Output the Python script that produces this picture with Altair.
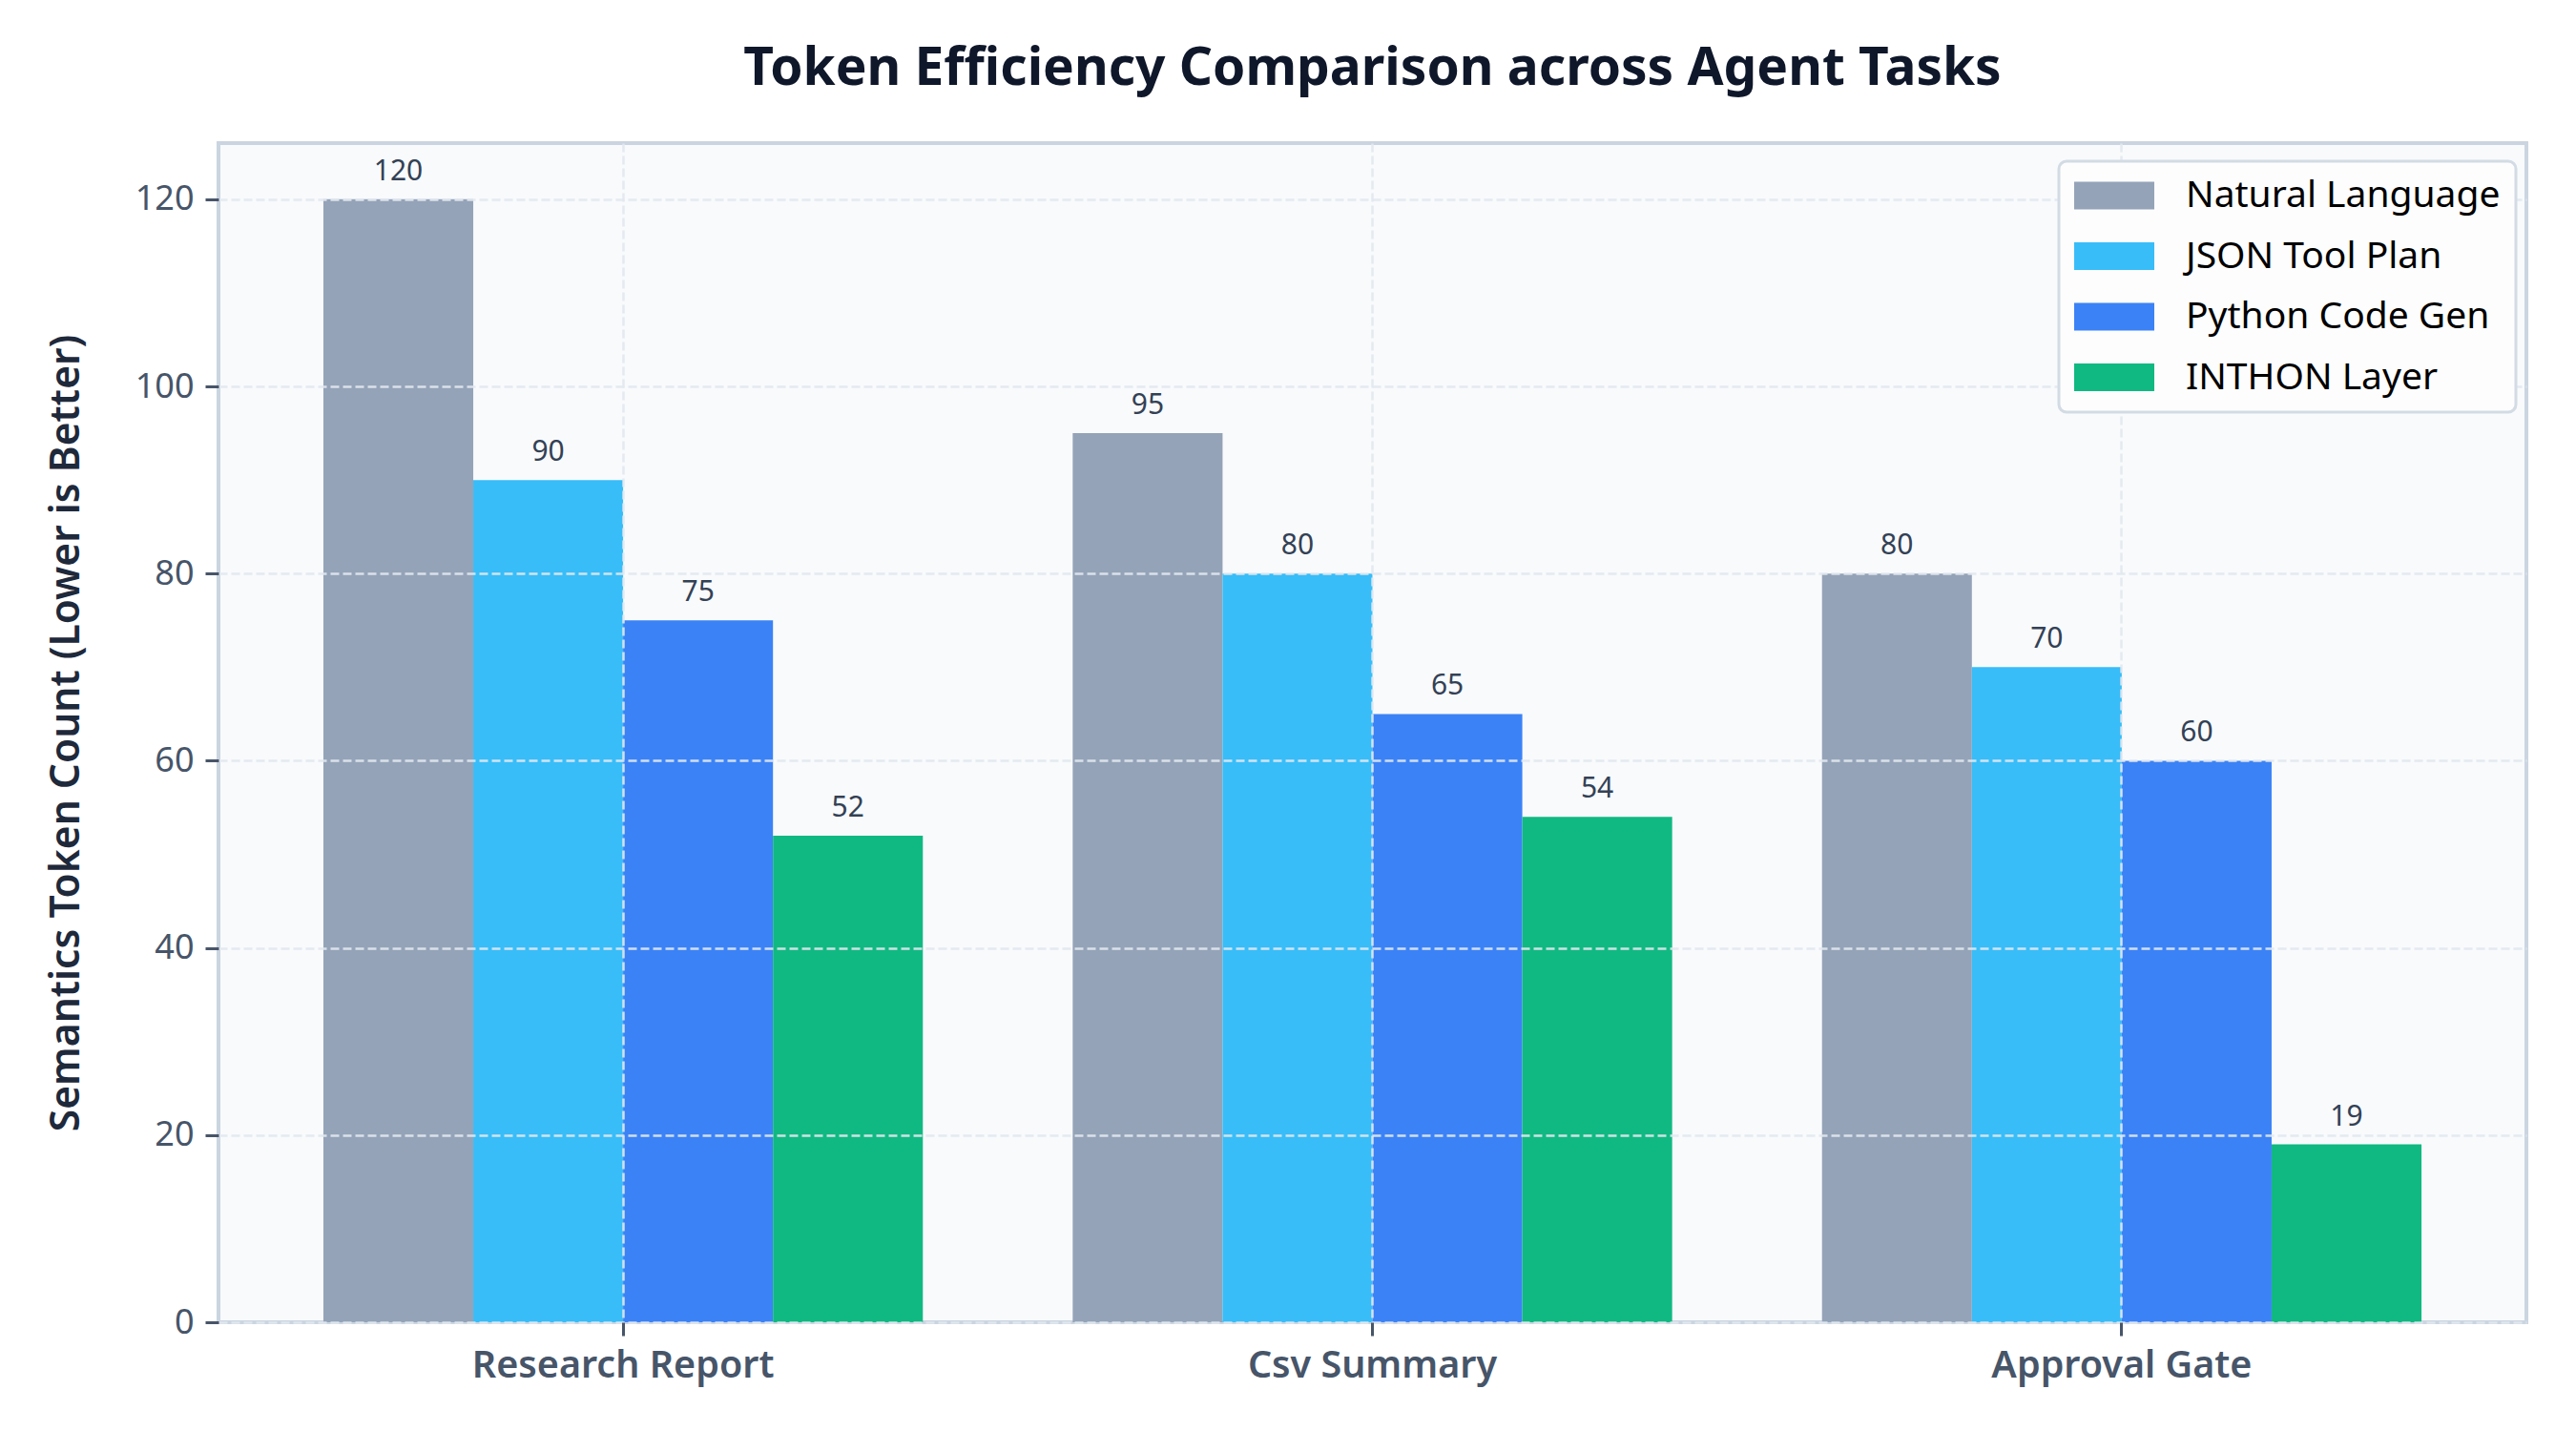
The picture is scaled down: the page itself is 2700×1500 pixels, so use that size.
import altair as alt
import pandas as pd

# Tasks on the x axis and the four prompting strategies compared for each
tasks = ["Research Report", "Csv Summary", "Approval Gate"]
methods = ["Natural Language", "JSON Tool Plan", "Python Code Gen", "INTHON Layer"]

# Semantic token counts per task (lower is better)
natural_language = [120, 95, 80]
json_tool_plan = [90, 80, 70]
python_code_gen = [75, 65, 60]
inthon_layer = [52, 54, 19]

colors = ["#94a3b8", "#38bdf8", "#3b82f6", "#10b981"]
y_ticks = [0, 20, 40, 60, 80, 100, 120]

series = [natural_language, json_tool_plan, python_code_gen, inthon_layer]
rows = []
for method, values in zip(methods, series):
    for task, value in zip(tasks, values):
        rows.append({"task": task, "method": method, "tokens": value})
df = pd.DataFrame(rows)

FONT = "Noto Sans"
PLOT_W, PLOT_H = 2419, 1236
TICK_COLOR = "#475569"

x_enc = alt.X(
    "task:N",
    sort=tasks,
    title=None,
    scale=alt.Scale(paddingInner=0.2, paddingOuter=0.14),
    axis=alt.Axis(
        labelAngle=0,
        labelFontSize=39.5,
        labelFontWeight=600,
        labelColor=TICK_COLOR,
        labelPadding=12,
        labelLimit=0,
        tickSize=14,
        tickWidth=3,
        tickColor=TICK_COLOR,
        grid=True,
        bandPosition=0.5,
        zindex=1,
    ),
)
xoff_enc = alt.XOffset(
    "method:N", sort=methods, scale=alt.Scale(paddingInner=0, paddingOuter=0)
)
y_enc = alt.Y(
    "tokens:Q",
    title="Semantics Token Count (Lower is Better)",
    scale=alt.Scale(domain=[0, 126], nice=False, zero=True),
    axis=alt.Axis(
        values=y_ticks,
        labelFontSize=36,
        labelColor=TICK_COLOR,
        labelPadding=12,
        tickSize=14,
        tickWidth=3,
        tickColor=TICK_COLOR,
        grid=True,
        zindex=1,
        titleFontSize=42.5,
        titleFontWeight=600,
        titleColor="#1e293b",
        titleAngle=270,
        titleAlign="center",
        titleBaseline="middle",
        titleLimit=0,
        titleX=-160,
        titleY=PLOT_H / 2,
    ),
)

# Wide, flat legend swatches drawn as a custom path
bars = alt.Chart(df).mark_bar().encode(
    x=x_enc,
    xOffset=xoff_enc,
    y=y_enc,
    color=alt.Color(
        "method:N",
        sort=methods,
        scale=alt.Scale(domain=methods, range=colors),
        legend=alt.Legend(
            title=None,
            orient="none",
            legendX=1929,
            legendY=19,
            symbolType="M-2.1,-0.725H2.1V0.725H-2.1Z",
            symbolSize=1600,
            symbolOffset=22,
            symbolStrokeWidth=0,
            symbolOpacity=1,
            labelFontSize=39,
            labelFont=FONT,
            labelColor="#000000",
            labelOffset=55,
            labelLimit=0,
            rowPadding=23.5,
            padding=16,
            fillColor="#fdfdfe",
            strokeColor="#d3dbe4",
            cornerRadius=8,
            zindex=2,
        ),
    ),
)

labels = alt.Chart(df).mark_text(
    dy=-20, baseline="alphabetic", fontSize=30, color="#334155", font=FONT
).encode(
    x=alt.X("task:N", sort=tasks),
    xOffset=alt.XOffset("method:N", sort=methods),
    y=alt.Y("tokens:Q"),
    text=alt.Text("tokens:Q"),
)

chart = (
    alt.layer(bars, labels)
    .properties(
        width=PLOT_W,
        height=PLOT_H,
        autosize=alt.AutoSizeParams(type="none"),
        padding={"left": 229, "top": 150, "right": 52, "bottom": 114},
        title=alt.TitleParams(
            "Token Efficiency Comparison across Agent Tasks",
            fontSize=55,
            fontWeight="bold",
            color="#0f172a",
            font=FONT,
            anchor="middle",
            baseline="bottom",
            offset=-6,
        ),
    )
    .configure(background="#ffffff", font=FONT)
    .configure_view(fill="#f8fafc", stroke="#cbd5e1", strokeWidth=4)
    .configure_axis(
        domain=False,
        gridColor="#e2e8f0",
        gridDash=[9, 4],
        gridWidth=2.5,
        gridOpacity=0.9,
        labelFont=FONT,
        titleFont=FONT,
    )
    .configure_legend(strokeWidth=3)
)

chart.save("out.html", embed_options={"renderer": "svg", "actions": False})
